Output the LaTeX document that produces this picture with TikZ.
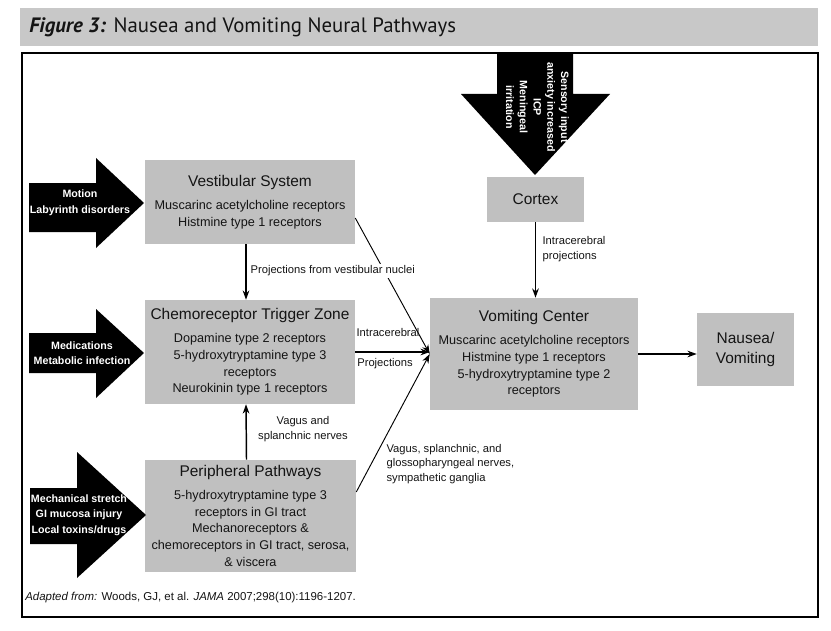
\documentclass[tikz,border=0pt]{standalone}
\usepackage{fontspec}
\setmainfont{Liberation Sans}
\newfontfamily\headfont{PT Sans}
\usetikzlibrary{arrows.meta}

\definecolor{boxgray}{RGB}{192,192,192}
\definecolor{bargray}{RGB}{200,200,200}
\definecolor{inkgray}{RGB}{20,20,20}

\tikzset{
  pathbox/.style={fill=boxgray, text=inkgray, align=center, inner sep=0pt,
    font=\fontsize{9.5}{12.6}\selectfont},
  causetext/.style={text=white, align=center, inner sep=0pt,
    font=\bfseries\fontsize{8}{11.5}\selectfont},
  pathlabel/.style={text=inkgray, inner sep=1pt, font=\fontsize{8.4}{11}\selectfont},
  nerve/.style={line width=1.1pt, -{Stealth[length=7pt,width=5pt]}},
  thinnerve/.style={line width=0.7pt, -{Stealth[length=7pt,width=5pt]}},
}
\newcommand{\boxhead}[1]{{\fontsize{11.6}{14}\selectfont #1}\\[4.5pt]}

\begin{document}
\begin{tikzpicture}[x=0.75pt, y=-0.75pt]
\useasboundingbox (0,0) rectangle (831,631);

% title bar
\fill[bargray] (20,8) rectangle (818,46);
\node[anchor=west, inner sep=0pt, text=inkgray, font=\headfont\fontsize{15.6}{17}\selectfont] (title) at (29,27)
  {\textbf{\textit{Figure 3:}} Nausea and Vomiting Neural Pathways};

% frame
\draw[line width=0.9pt] (22,53) rectangle (818,617);

% Place nodes
\node[pathbox, minimum width=157.5pt, minimum height=63pt] (vestib) at (250,202)
  {\boxhead{Vestibular System}Muscarinc acetylcholine receptors\\Histmine type 1 receptors};
\node[pathbox, minimum width=157.5pt, minimum height=78pt] (ctz) at (250,352)
  {\boxhead{Chemoreceptor Trigger Zone}Dopamine type 2 receptors\\5-hydroxytryptamine type 3\\receptors\\Neurokinin type 1 receptors};
\node[pathbox, minimum width=158.25pt, minimum height=84pt] (periph) at (250.5,516)
  {\boxhead{Peripheral Pathways}5-hydroxytryptamine type 3\\receptors in GI tract\\Mechanoreceptors \&\\chemoreceptors in GI tract, serosa,\\\& viscera};
\node[pathbox, minimum width=72.75pt, minimum height=33.75pt, font=\fontsize{11.6}{14}\selectfont] (cortex) at (535.5,199.5) {Cortex};
\node[pathbox, minimum width=156pt, minimum height=84pt] (vomit) at (534,354)
  {\boxhead{Vomiting Center}Muscarinc acetylcholine receptors\\Histmine type 1 receptors\\5-hydroxytryptamine type 2\\receptors};
\node[pathbox, minimum width=72.75pt, minimum height=54.75pt, font=\fontsize{11.6}{15}\selectfont] (nausea) at (745.5,349.5) {Nausea/\\Vomiting};

% big black arrows
\fill[black] (497,53) -- (573,53) -- (573,94) -- (610,94) -- (535,175) -- (461,94) -- (497,94) -- cycle; %top
\fill[black] (29,183) -- (96,183) -- (96,158) -- (144,203) -- (96,248) -- (96,232) -- (29,232) -- cycle; %motion
\fill[black] (29,333) -- (96,333) -- (96,309) -- (144,353) -- (96,398) -- (96,373) -- (29,373) -- cycle; %medications
\fill[black] (30,488) -- (77,488) -- (77,452) -- (146,515) -- (77,578) -- (77,544) -- (30,544) -- cycle; %mechanical

\node[causetext, rotate=-90, font=\bfseries\fontsize{8}{10.3}\selectfont] (sensory) at (537.5,107)
  {Sensory input\\anxiety increased\\ICP\\Meningeal\\irritation};
\node[causetext, font=\bfseries\fontsize{8}{12}\selectfont] (motion) at (80,203) {Motion\\Labyrinth disorders};
\node[causetext] (meds) at (82,353) {Medications\\Metabolic infection};
\node[causetext] (stretch) at (79,515) {Mechanical stretch\\GI mucosa injury\\Local toxins/drugs};

% connectors
\draw[thinnerve] ([yshift=-12pt]vestib.east) -- (vomit.west);
\draw[thinnerve] ([yshift=18pt]periph.east) -- (vomit.west);
\draw[nerve] ([xshift=-3pt]vestib.south) -- ([xshift=-3pt]ctz.north);
\draw[nerve] ([xshift=-3pt]periph.north) -- ([xshift=-3pt]ctz.south);
\draw[nerve] (ctz.east) -- (ctz.east -| vomit.west);
\draw[nerve] (cortex.south) -- (cortex.south |- vomit.north);
\draw[nerve] (vomit.east) -- (vomit.east -| nausea.west);

% labels
\node[pathlabel, anchor=west, fill=white] (vestlbl) at (249,271) {Projections from vestibular nuclei};
\node[pathlabel] (icl) at (388,332) {Intracerebral};
\node[pathlabel] (prl) at (385,364) {Projections};
\node[pathlabel, align=center] (vaguslbl) at (303,429) {Vagus and\\splanchnic nerves};
\node[pathlabel, align=left, anchor=west] (glosslbl) at (385,464)
  {Vagus, splanchnic, and\\glossopharyngeal nerves,\\sympathetic ganglia};
\node[pathlabel, align=left, anchor=west] (cortlbl) at (541,249) {Intracerebral\\projections};

% source
\node[anchor=west, inner sep=0pt, text=inkgray, font=\fontsize{8.6}{10}\selectfont] (source) at (25,598)
  {\textit{Adapted from:} Woods, GJ, et al. \textit{JAMA} 2007;298(10):1196-1207.};

\end{tikzpicture}
\end{document}
